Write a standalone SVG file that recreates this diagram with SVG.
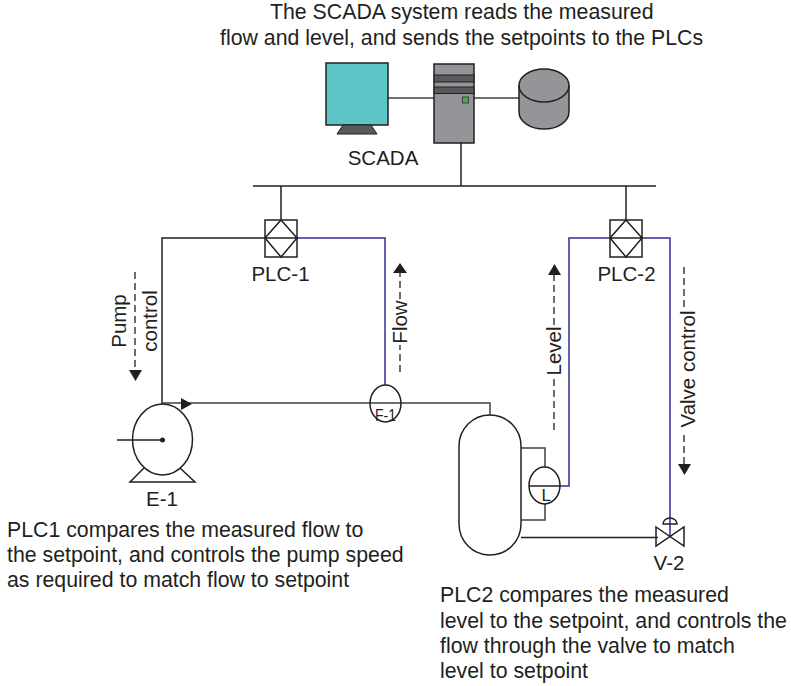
<svg xmlns="http://www.w3.org/2000/svg" width="791" height="686" viewBox="0 0 791 686">
<style>
text{font-family:"Liberation Sans",Arial,sans-serif;font-size:20.5px;fill:#231f20}
.note{font-size:21.3px}
.small{font-size:17px}
.ln{fill:none;stroke:#231f20;stroke-width:1.5}
.gl{fill:none;stroke:#414042;stroke-width:1.5}
.bl{fill:none;stroke:#2e3192;stroke-width:1.5}
.da{fill:none;stroke:#231f20;stroke-width:1.3;stroke-dasharray:7 4}
.sh{fill:#fff;stroke:#231f20;stroke-width:1.5}
.gy{fill:#939598;stroke:#231f20;stroke-width:1.5}
.hd{fill:#231f20}
</style>
<rect width="791" height="686" fill="#fff"/>
<g id="connectors">
<path class="gl" d="M388 98H434M474 98H519"/>
<path class="ln" d="M461 143V186M253 186H656M281 186V220M626 186V220"/>
<path class="ln" d="M265 238H162V404"/>
<path class="bl" d="M297 238H385V385"/>
<path class="bl" d="M610 238H569V486H560"/>
<path class="bl" d="M642 238H670V536"/>
<path class="gl" d="M162 403H490V415"/>
<path class="gl" d="M521 448H545V467M545 504V520H521"/>
<path class="ln" d="M521 537.500H658"/>
<path class="hd" d="M181 398L192 404L181 410Z"/>
</g>
<g id="annotations">
<path class="da" d="M135 272V370"/><path class="hd" d="M129 370H142L135.500 381Z"/>
<path class="da" d="M400 372V345M400 299V273"/><path class="hd" d="M393 273H407L400 263Z"/>
<path class="da" d="M554 430V377M554 325V275"/><path class="hd" d="M548 275H561L554.500 264Z"/>
<path class="da" d="M684 464V432M684 307V263"/><path class="hd" d="M678 464H691L684.500 475Z"/>
<text transform="translate(126 321) rotate(-90)" text-anchor="middle">Pump</text>
<text transform="translate(157 321) rotate(-90)" text-anchor="middle">control</text>
<text transform="translate(407 322) rotate(-90)" text-anchor="middle">Flow</text>
<text transform="translate(561 351) rotate(-90)" text-anchor="middle">Level</text>
<text transform="translate(695 369) rotate(-90)" text-anchor="middle">Valve control</text>
</g>
<g id="note-top">
<text class="note" x="270" y="19">The SCADA system reads the measured</text>
<text class="note" x="220" y="45">flow and level, and sends the setpoints to the PLCs</text>
</g>
<g id="scada-monitor">
<rect x="326" y="63" width="62" height="62" fill="#5bc5c8" stroke="#231f20" stroke-width="1.500"/>
<path d="M343 125H371L377 134H337Z" fill="#58595b" stroke="#231f20"/>
<text x="383" y="165" text-anchor="middle">SCADA</text>
</g>
<g id="scada-server">
<rect class="gy" x="434" y="64" width="40" height="79"/>
<rect x="434" y="75" width="40" height="7" fill="#58595b" stroke="#231f20"/>
<rect x="434" y="87" width="40" height="6.500" fill="#58595b" stroke="#231f20"/>
<rect x="462.500" y="97" width="6" height="6" fill="#39b54a" stroke="#414042"/>
</g>
<g id="scada-drum">
<path class="gy" d="M519 85.500V112A25 17 0 0 0 569 112V85.500Z"/>
<ellipse class="gy" cx="544" cy="85.500" rx="25" ry="16.500"/>
</g>
<g id="plc-1">
<rect class="sh" x="265" y="220" width="32" height="37"/>
<path class="ln" d="M281 220L297 238L281 257L265 238ZM265 238H297"/>
<text x="280.500" y="281" text-anchor="middle">PLC-1</text>
</g>
<g id="plc-2">
<rect class="sh" x="610" y="220" width="32" height="37"/>
<path class="ln" d="M626 220L642 238L626 257L610 238ZM610 238H642"/>
<text x="626.500" y="281" text-anchor="middle">PLC-2</text>
</g>
<g id="f-1">
<ellipse class="ln" cx="385.500" cy="403.500" rx="15.500" ry="18.500"/>
<text class="small" x="375" y="421" textLength="21" lengthAdjust="spacingAndGlyphs">F-1</text>
</g>
<g id="e-1">
<path class="ln" d="M144 468L130 482H195L180 468"/>
<ellipse class="sh" cx="162.500" cy="439.500" rx="30" ry="35.500"/>
<path class="ln" d="M117 440H162"/>
<circle class="hd" cx="162.500" cy="440" r="2.500"/>
<text x="162" y="506" text-anchor="middle">E-1</text>
</g>
<g id="tank">
<rect class="ln" x="459" y="415" width="62" height="140" rx="31" ry="31"/>
</g>
<g id="l">
<ellipse class="ln" cx="544.500" cy="485.500" rx="15.500" ry="18.500"/>
<path class="ln" d="M529 486H560"/>
<text class="small" x="541.500" y="501">L</text>
</g>
<g id="v-2">
<path class="ln" d="M656 527L684 546V527L656 546Z"/>
<path class="ln" d="M663 524A7 6 0 0 1 677 524Z"/>
<text x="669" y="570" text-anchor="middle">V-2</text>
</g>
<g id="note-plc1">
<text class="note" x="7" y="537">PLC1 compares the measured flow to</text>
<text class="note" x="7" y="562">the setpoint, and controls the pump speed</text>
<text class="note" x="7" y="587">as required to match flow to setpoint</text>
</g>
<g id="note-plc2">
<text class="note" x="440" y="602">PLC2 compares the measured</text>
<text class="note" x="440" y="628">level to the setpoint, and controls the</text>
<text class="note" x="440" y="653">flow through the valve to match</text>
<text class="note" x="440" y="678">level to setpoint</text>
</g>
</svg>
